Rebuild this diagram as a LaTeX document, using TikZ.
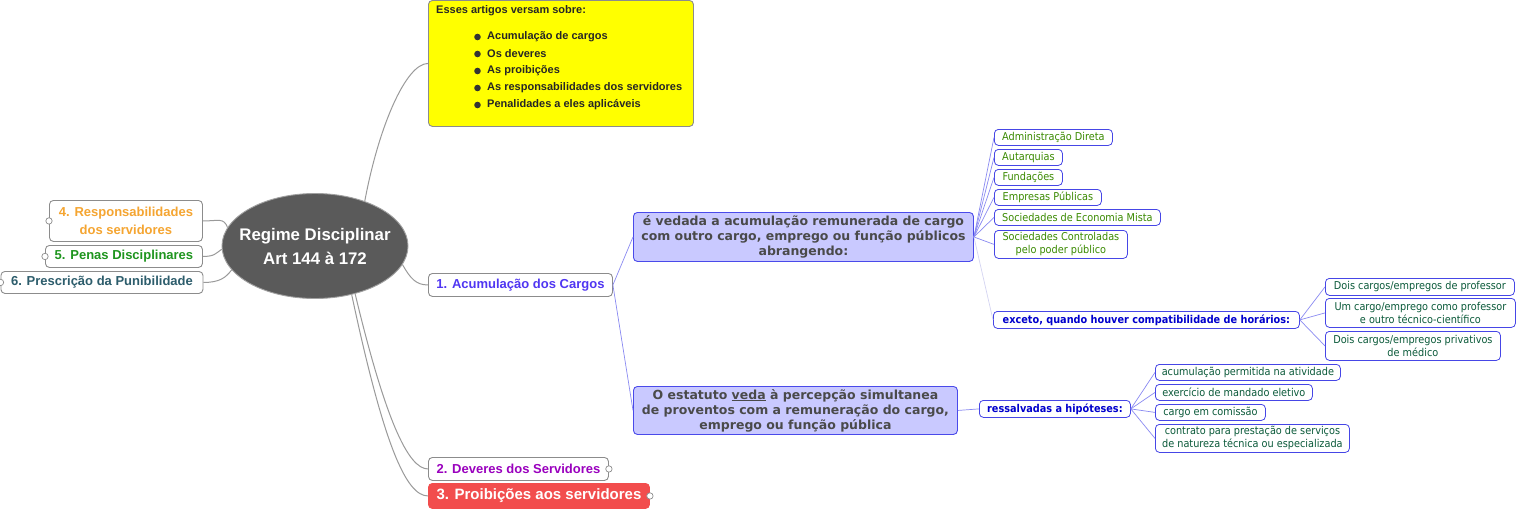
\documentclass[tikz,border=0pt]{standalone}
\usepackage{fontspec}
\setmainfont{Liberation Sans}
\newfontfamily\rob{Liberation Sans}
\newfontfamily\tah{DejaVu Sans Condensed}
\newfontfamily\ver{DejaVu Sans}
\usetikzlibrary{shapes.geometric}
\definecolor{nodegray}{HTML}{8C8C8C}
\definecolor{linegray}{HTML}{9A9A9A}
\definecolor{ellfill}{HTML}{5A5A5A}
\definecolor{ellgray}{HTML}{A0A0A0}
\definecolor{orng}{HTML}{F5A531}
\definecolor{grn5}{HTML}{1E951E}
\definecolor{teal6}{HTML}{2D5D6C}
\definecolor{acucol}{HTML}{5036F2}
\definecolor{devcol}{HTML}{9A00BE}
\definecolor{prored}{HTML}{F24D4D}
\definecolor{lav}{HTML}{C9C9FF}
\definecolor{lavdraw}{HTML}{4A4AEA}
\definecolor{sblue}{HTML}{4646E6}
\definecolor{grntxt}{HTML}{3A8A00}
\definecolor{dgrn}{HTML}{0B5A3A}
\definecolor{btxt}{HTML}{0000CC}
\definecolor{graytxt}{HTML}{4A4A4A}
\definecolor{blline}{HTML}{8A8AF2}
\definecolor{faint}{HTML}{D4D4F2}
\definecolor{yel}{HTML}{FFFF00}
\definecolor{bul}{HTML}{333333}
\tikzset{
  x=1pt, y=-1pt,
  mm/.style={draw=nodegray, fill=white, rounded corners=4pt, inner sep=0pt, align=center,
    line width=0.9pt, anchor=north west, font=\rob\bfseries\fontsize{13}{18}\selectfont},
  small/.style={draw=sblue, fill=white, rounded corners=4pt, inner sep=0pt, align=center,
    line width=0.8pt, anchor=north west, font=\tah\fontsize{10.8}{13}\selectfont},
  big/.style={draw=lavdraw, fill=lav, rounded corners=4pt, inner sep=0pt, align=center,
    line width=0.9pt, anchor=north west, text=graytxt, font=\ver\bfseries\fontsize{12.5}{15}\selectfont},
  gl/.style={draw=linegray, line width=1pt},
  bl/.style={draw=blline, line width=0.7pt},
  fl/.style={draw=faint, line width=0.7pt},
  knob/.style={draw=nodegray, fill=white, line width=0.7pt},
  ytext/.style={anchor=west, inner sep=0pt, font=\rob\bfseries\fontsize{11}{13}\selectfont, text=black!85},
}
\begin{document}
\begin{tikzpicture}
\path[use as bounding box, fill=white] (0,0) rectangle (1516,509);

% central
\node[ellipse, draw=ellgray, fill=ellfill, minimum width=186pt, minimum height=105pt, inner sep=0pt,
  line width=0.9pt] (ell) at (315,246) {};
\node[text=white, align=center, inner sep=0pt, font=\rob\bfseries\fontsize{16.8}{24}\selectfont] (ellt) at (ell.center)
  {Regime Disciplinar\\Art 144 à 172};

% yellow box
\node[draw=nodegray, fill=yel, rounded corners=4pt, line width=0.9pt, anchor=north west,
  minimum width=265pt, minimum height=126pt, inner sep=0pt] (yel) at (428,0) {};
\node[ytext] (yt) at (436,11) {Esses artigos versam sobre:};
\node[ytext] (y1) at (487,37) {Acumulação de cargos};
\node[ytext] (y2) at (487,54) {Os deveres};
\node[ytext] (y3) at (487,71) {As proibições};
\node[ytext] (y4) at (487,88) {As responsabilidades dos servidores};
\node[ytext] (y5) at (487,105) {Penalidades a eles aplicáveis};
\foreach \yy in {37,54,71,88,105} { \fill[bul] (477.5,\yy) circle (3.3pt); }

% left nodes
\node[mm, text=orng, minimum width=153pt, minimum height=41pt] (r4) at (49,200) {4. Responsabilidades\\dos servidores};
\node[mm, text=grn5, minimum width=157pt, minimum height=22pt] (r5) at (45,245) {5. Penas Disciplinares};
\node[mm, text=teal6, minimum width=202pt, minimum height=22pt] (r6) at (0.5,271) {6. Prescrição da Punibilidade};

% right first-level
\node[mm, text=acucol, minimum width=184pt, minimum height=23pt] (acu) at (428,273) {1. Acumulação dos Cargos};
\node[mm, text=devcol, minimum width=180pt, minimum height=23pt] (dev) at (428,457) {2. Deveres dos Servidores};
\node[mm, draw=prored, fill=prored, text=white, minimum width=221pt, minimum height=25pt,
  font=\rob\bfseries\fontsize{15}{18}\selectfont] (pro) at (428,483) {3. Proibições aos servidores};

% gray connectors
\draw[gl] (ell.42) .. controls +(14,-75) and +(-22,0) .. (yel.west);
\draw[gl] (ell.-12) .. controls +(8,14) and +(-12,0) .. (acu.west);
\draw[gl] (ell.-50) .. controls +(30,125) and +(-20,0) .. (dev.west);
\draw[gl] (ell.-53) .. controls +(32,150) and +(-22,0) .. (pro.west);
\draw[gl] (r4.east) .. controls +(16,0) and +(-4,-10) .. (ell.168);
\draw[gl] (r5.east) .. controls +(12,0) and +(-6,4) .. (ell.182);
\draw[gl] (r6.east) .. controls +(16,0) and +(-6,8) .. (ell.196);

% knobs
\draw[knob] (r4.west) circle (3.2pt);
\draw[knob] (r5.west) circle (3.2pt);
\draw[knob] (r6.west) circle (3.2pt);
\draw[knob] (dev.east) circle (3.2pt);
\draw[knob] (pro.east) circle (3.2pt);

% lavender boxes
\node[big, minimum width=340pt, minimum height=49pt] (b1) at (633,212)
  {é vedada a acumulação remunerada de cargo\\com outro cargo, emprego ou função públicos\\abrangendo:};
\node[big, minimum width=324pt, minimum height=48pt] (b2) at (633,386)
  {O estatuto \underline{veda} à percepção simultanea\\de proventos com a remuneração do cargo,\\emprego ou função pública};

\draw[bl] (acu.east) -- (b1.west);
\draw[bl] (acu.east) -- (b2.west);

% green list
\node[small, text=grntxt, minimum width=118pt, minimum height=16pt] (g1) at (994,129) {Administração Direta};
\node[small, text=grntxt, minimum width=68pt, minimum height=16pt] (g2) at (994,149) {Autarquias};
\node[small, text=grntxt, minimum width=68pt, minimum height=16pt] (g3) at (994,169) {Fundações};
\node[small, text=grntxt, minimum width=107pt, minimum height=16pt] (g4) at (994,189) {Empresas Públicas};
\node[small, text=grntxt, minimum width=166pt, minimum height=16pt] (g5) at (994,209) {Sociedades de Economia Mista};
\node[small, text=grntxt, minimum width=133pt, minimum height=28pt] (g6) at (994,230) {Sociedades Controladas\\pelo poder público};
\foreach \g in {g1,g2,g3,g4,g5,g6} { \draw[bl] (b1.east) -- (\g.west); }

% exceto
\node[small, text=btxt, minimum width=306pt, minimum height=17pt, font=\tah\bfseries\fontsize{10.8}{13}\selectfont] (exc) at (993,311) {exceto, quando houver compatibilidade de horários:};
\draw[fl] (b1.east) -- (exc.west);
\node[small, text=dgrn, minimum width=189pt, minimum height=17pt] (p1) at (1325,278) {Dois cargos/empregos de professor};
\node[small, text=dgrn, minimum width=190pt, minimum height=29pt] (p2) at (1325,298) {Um cargo/emprego como professor\\e outro técnico-científico};
\node[small, text=dgrn, minimum width=175pt, minimum height=29pt] (p3) at (1325,331) {Dois cargos/empregos privativos\\de médico};
\foreach \p in {p1,p2,p3} { \draw[bl] (exc.east) -- (\p.west); }

% ressalvadas
\node[small, text=btxt, minimum width=151pt, minimum height=17pt, font=\tah\bfseries\fontsize{10.8}{13}\selectfont] (res) at (979,400) {ressalvadas a hipóteses:};
\draw[bl] (b2.east) -- (res.west);
\node[small, text=dgrn, minimum width=185pt, minimum height=16pt] (h1) at (1155,364) {acumulação permitida na atividade};
\node[small, text=dgrn, minimum width=157pt, minimum height=16pt] (h2) at (1155,384) {exercício de mandado eletivo};
\node[small, text=dgrn, minimum width=110pt, minimum height=16pt] (h3) at (1155,404) {cargo em comissão};
\node[small, text=dgrn, minimum width=194pt, minimum height=28pt] (h4) at (1155,424) {contrato para prestação de serviços\\de natureza técnica ou especializada};
\foreach \h in {h1,h2,h3,h4} { \draw[bl] (res.east) -- (\h.west); }
\end{tikzpicture}
\end{document}
